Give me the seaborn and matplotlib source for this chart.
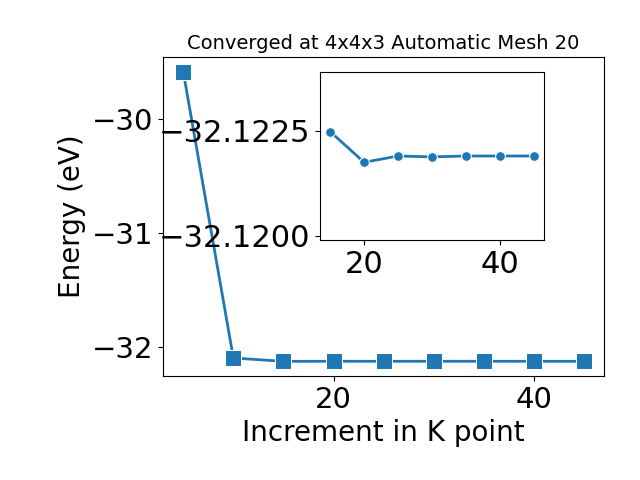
from matplotlib import pyplot as plt
import pandas as pd
import seaborn as sns

# k point increments and total energies (eV)
kpoints = [5, 10, 15, 20, 25, 30, 35, 40, 45]
energy = [-29.59, -32.093, -32.12248, -32.12175, -32.1219, -32.12188, -32.1219, -32.1219, -32.1219]

# inset only shows the converged part
kpoints_zoom = kpoints[2:]
energy_zoom = energy[2:]

df = pd.DataFrame({'k': kpoints, 'E': energy})
df_zoom = pd.DataFrame({'k': kpoints_zoom, 'E': energy_zoom})

fig = plt.figure(figsize=(6.4, 4.8), dpi=100)
ax = fig.add_axes([0.255, 0.217, 0.689, 0.664])
sns.lineplot(data=df, x='k', y='E', marker='s', markersize=11, linewidth=2,
             color='#1f77b4', ax=ax)
ax.set_xlabel('Increment in K point', fontsize=20)
ax.set_ylabel('Energy (eV)', fontsize=20)
ax.set_title('Converged at 4x4x3 Automatic Mesh 20', fontsize=14)
ax.tick_params(labelsize=21)
ax.set_xticks([20, 40])
ax.set_yticks([-30, -31, -32])
ax.set_yticklabels(['\u221230', '\u221231', '\u221232'])

# inset with the converged values
ax2 = fig.add_axes([0.5, 0.5, 0.35, 0.35])
sns.lineplot(data=df_zoom, x='k', y='E', marker='o', markersize=7, linewidth=2,
             color='#1f77b4', ax=ax2)
ax2.set_ylim(-32.1199, -32.1239)
ax2.set_yticks([-32.1225, -32.1200])
ax2.set_yticklabels(['\u221232.1225', '\u221232.1200'])
ax2.set_xticks([20, 40])
ax2.set_xlabel('')
ax2.set_ylabel('')
ax2.tick_params(labelsize=22)

fig.savefig('out.png', dpi=100)
